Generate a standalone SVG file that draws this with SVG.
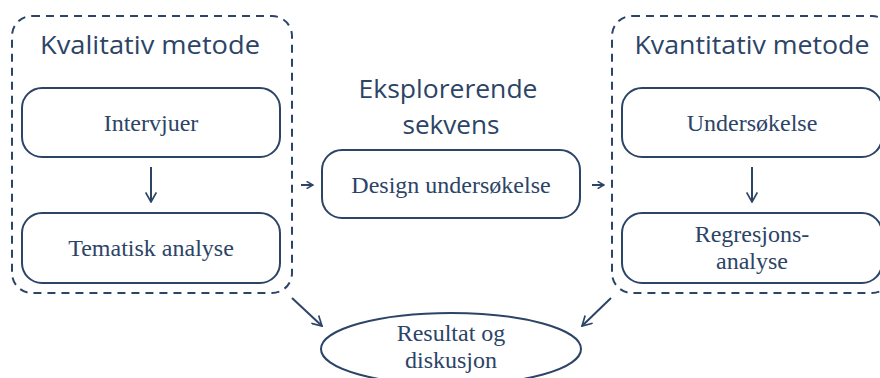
<svg xmlns="http://www.w3.org/2000/svg" width="880" height="378" viewBox="0 0 880 378">
<defs>
<style>
.grp{fill:none;stroke:#2c4466;stroke-width:2;stroke-dasharray:8,6}
.box{fill:#fff;stroke:#2c4466;stroke-width:2}
.t{font-family:"Liberation Serif","Times New Roman",serif;font-size:24px;fill:#2c4466;text-anchor:middle}
.h{font-family:"Open Sans",Lato,sans-serif;font-weight:400;font-size:25px;fill:#2c4466;text-anchor:middle}
.c{fill:none;stroke:#2c4466;stroke-width:2;marker-end:url(#ah)}
.s{fill:none;stroke:#2c4466;stroke-width:2;marker-end:url(#sh)}
</style>
<marker id="ah" viewBox="0 0 10 10" refX="9" refY="5" markerWidth="12" markerHeight="12" markerUnits="userSpaceOnUse" orient="auto">
<path d="M1,0.5 L9,5 L1,9.5" fill="none" stroke="#2c4466" stroke-width="1.4"/>
</marker>
<marker id="sh" viewBox="0 0 10 10" refX="9" refY="5" markerWidth="8" markerHeight="8" markerUnits="userSpaceOnUse" orient="auto">
<path d="M1,0.5 L9,5 L1,9.5" fill="none" stroke="#2c4466" stroke-width="2"/>
</marker>
</defs>
<rect width="880" height="378" fill="#fff"/>
<g id="kvalitativ">
<rect class="grp" x="12" y="16" width="280" height="277" rx="20"/>
<text class="h" x="150" y="54" textLength="220" lengthAdjust="spacingAndGlyphs">Kvalitativ metode</text>
</g>
<g id="kvantitativ">
<rect class="grp" x="612" y="16" width="280" height="277" rx="20"/>
<text class="h" x="752" y="54" textLength="235" lengthAdjust="spacingAndGlyphs">Kvantitativ metode</text>
</g>
<g id="intervjuer">
<rect class="box" x="22" y="88" width="258" height="69" rx="20"/>
<text class="t" x="151" y="131">Intervjuer</text>
</g>
<g id="tematisk">
<rect class="box" x="22" y="213" width="258" height="70" rx="20"/>
<text class="t" x="151" y="256">Tematisk analyse</text>
</g>
<g id="eksplorerende">
<text class="h" x="448" y="98" textLength="179" lengthAdjust="spacingAndGlyphs">Eksplorerende</text>
<text class="h" x="451" y="134" textLength="97" lengthAdjust="spacingAndGlyphs">sekvens</text>
</g>
<g id="design">
<rect class="box" x="322" y="150" width="258" height="68" rx="20"/>
<text class="t" x="451" y="193">Design undersøkelse</text>
</g>
<g id="undersokelse">
<rect class="box" x="622" y="88" width="260" height="69" rx="20"/>
<text class="t" x="752" y="131">Undersøkelse</text>
</g>
<g id="regresjon">
<rect class="box" x="622" y="213" width="260" height="70" rx="20"/>
<text class="t" x="752" y="242">Regresjons-</text>
<text class="t" x="752" y="269">analyse</text>
</g>
<g id="resultat">
<ellipse class="box" cx="451" cy="349" rx="130" ry="36"/>
<text class="t" x="451" y="341">Resultat og</text>
<text class="t" x="451" y="368">diskusjon</text>
</g>
<g id="connectors">
<path class="c" d="M151,167 V202"/>
<path class="c" d="M752,167 V202"/>
<path class="s" d="M301,185 H313"/>
<path class="s" d="M592,185 H604"/>
<path class="c" d="M292,298 L322,326"/>
<path class="c" d="M611,298 L582,326"/>
</g>
</svg>
